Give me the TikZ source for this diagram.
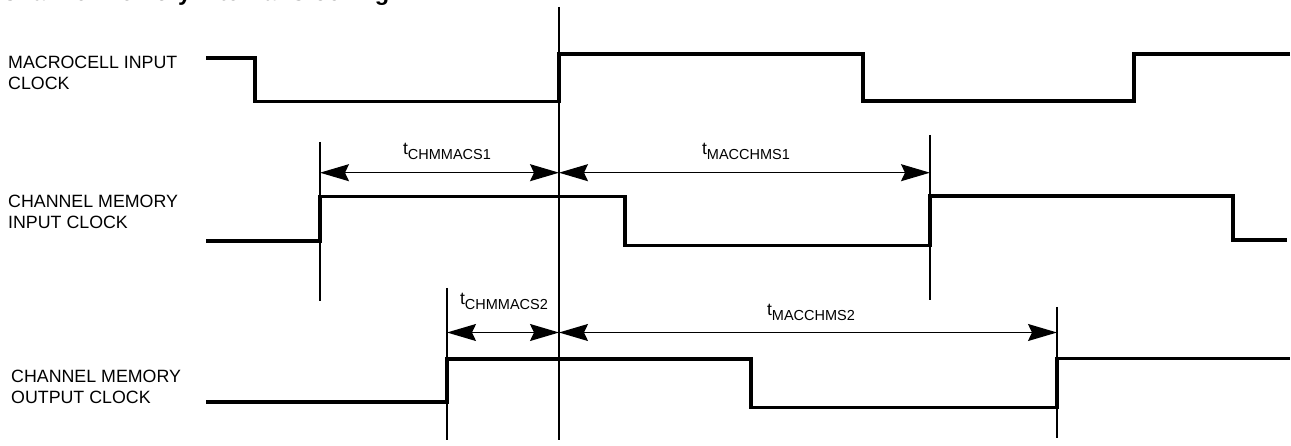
\documentclass[tikz,border=0pt]{standalone}
\usepackage{fontspec}
\setmainfont{Liberation Sans}
\usetikzlibrary{arrows.meta}
\newcommand\mytlabel[1]{{\fontsize{17.5}{20}\selectfont t}\raisebox{-4.5pt}{\fontsize{14.5}{16}\selectfont #1}}
\begin{document}
\begin{tikzpicture}[x=1pt,y=-1pt,
  sig/.style={line width=3.4pt, line join=miter},
  guide/.style={line width=1.4pt},
  dim/.style={line width=1.3pt, {Stealth[length=29pt,width=17pt,inset=4pt]}-{Stealth[length=29pt,width=17pt,inset=4pt]}},
  lbl/.style={anchor=base west, inner sep=0pt, font=\fontsize{17.8}{21}\selectfont, align=left},
  tlab/.style={anchor=base, inner sep=0pt},
  title/.style={anchor=base west, inner sep=0pt, font=\fontsize{23.6}{26}\selectfont\bfseries}]
\useasboundingbox (0,0) rectangle (1291,446);

% cropped title (cut at the top edge, as in the reference)
\node[title] (title) at (1,1) {Channel Memory Internal Clocking};

% row labels (base anchor = baseline of the last line)
\node[lbl] (lab1) at (8,90) {MACROCELL INPUT\\CLOCK};
\node[lbl] (lab2) at (8,229) {CHANNEL MEMORY\\INPUT CLOCK};
\node[lbl] (lab3) at (11,403) {CHANNEL MEMORY\\OUTPUT CLOCK};

% guide line coordinates
\coordinate (vA1) at (559,7);   \coordinate (vA2) at (559,440);
\coordinate (vB1) at (320,142); \coordinate (vB2) at (320,301);
\coordinate (vC1) at (930,135); \coordinate (vC2) at (930,300);
\coordinate (vD1) at (447,288); \coordinate (vD2) at (447,440);
\coordinate (vE1) at (1057,307);\coordinate (vE2) at (1057,438);

\draw[guide] (vA1) -- (vA2);
\draw[guide] (vB1) -- (vB2);
\draw[guide] (vC1) -- (vC2);
\draw[guide] (vD1) -- (vD2);
\draw[guide] (vE1) -- (vE2);

% signals
\draw[sig] (206,58) -- (255,58) -- (255,101.5) -- (559,101.5) -- (559,54) -- (863,54) -- (863,101) -- (1134,101) -- (1134,54) -- (1290,54);
\draw[sig] (206,241) -- (320,241) -- (320,196.5) -- (625,196.5) -- (625,245.5) -- (930,245.5) -- (930,196) -- (1233,196) -- (1233,240) -- (1287,240);
\draw[sig] (206,402) -- (447,402) -- (447,359) -- (751,359) -- (751,407.5) -- (1057,407.5) -- (1057,358.5) -- (1290,358.5);

% dimension arrows
\coordinate (aB) at (320,172.7);  \coordinate (aA) at (559,172.7); \coordinate (aC) at (930,172.7);
\coordinate (bD) at (447,332.5);  \coordinate (bA) at (559,332.5); \coordinate (bE) at (1057,332.5);
\draw[dim] (aB) -- (aA);
\draw[dim] (aA) -- (aC);
\draw[dim] (bD) -- (bA);
\draw[dim] (bA) -- (bE);

% timing labels
\node[tlab] (t1) at (447,155) {\mytlabel{CHMMACS1}};
\node[tlab] (t2) at (746,155) {\mytlabel{MACCHMS1}};
\node[tlab] (t3) at (504,305) {\mytlabel{CHMMACS2}};
\node[tlab] (t4) at (811,316) {\mytlabel{MACCHMS2}};
\end{tikzpicture}
\end{document}
